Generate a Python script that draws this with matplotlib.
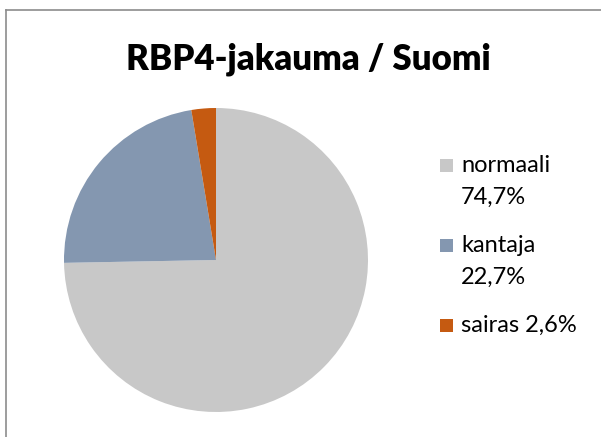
import matplotlib
matplotlib.use("Agg")
import matplotlib.pyplot as plt
from matplotlib.patches import Rectangle
from matplotlib.lines import Line2D

# data
labels = ["normaali", "kantaja", "sairas"]
values = [74.7, 22.7, 2.6]
colors = ["#C8C8C8", "#8497B0", "#C55A11"]
legend_text = ["normaali\n74,7%", "kantaja\n22,7%", "sairas 2,6%"]
title = "RBP4-jakauma / Suomi"

plt.rcParams["font.family"] = ["Lato", "DejaVu Sans"]

W, H = 601, 437
fig = plt.figure(figsize=(W / 100, H / 100), dpi=100)
fig.patch.set_facecolor("white")

# chart frame (only top and left edges visible)
fig.add_artist(Line2D([6 / W, 6 / W], [0, 1 - 10 / H], transform=fig.transFigure, color="#8c8c8c", lw=1.2))
fig.add_artist(Line2D([6 / W, 1], [1 - 10 / H, 1 - 10 / H], transform=fig.transFigure, color="#8c8c8c", lw=1.2))

# pie: center (216, 260), radius 152 px
cx, cy, r = 216, 260, 152
ax = fig.add_axes([(cx - r) / W, (H - cy - r) / H, 2 * r / W, 2 * r / H])
ax.pie(values, colors=colors, startangle=90, counterclock=False,
       wedgeprops=dict(linewidth=0))
ax.set_xlim(-1, 1)
ax.set_ylim(-1, 1)
ax.set_aspect("equal")
ax.axis("off")

fig.text(308 / W, 1 - 59 / H, title, ha="center", va="center",
         fontsize=25, fontweight="heavy", color="black")

# legend
rows_y = [165, 245, 325]
line_gap = 32
for txt, col, y in zip(legend_text, colors, rows_y):
    fig.add_artist(Rectangle((440 / W, 1 - (y + 6.5) / H), 13 / W, 13 / H,
                             transform=fig.transFigure, facecolor=col, edgecolor="none"))
    for i, p in enumerate(txt.split("\n")):
        fig.text(461 / W, 1 - (y + i * line_gap) / H, p, ha="left", va="center",
                 fontsize=17, color="black")

fig.savefig("out.png", dpi=100)
